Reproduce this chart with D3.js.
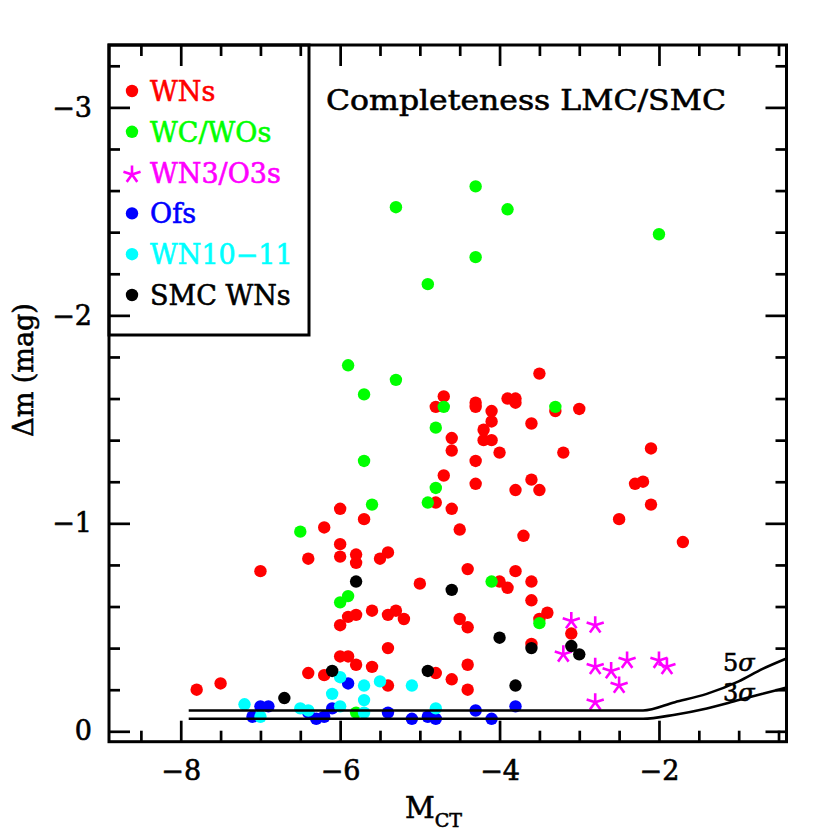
<!DOCTYPE html>
<html>
<head>
<meta charset="utf-8">
<script src="https://cdn.jsdelivr.net/npm/d3@7"></script>
<style>
  html, body { margin: 0; padding: 0; background: #fff; }
  svg { display: block; }
  text { font-family: "DejaVu Serif", "Liberation Serif", serif; }
</style>
</head>
<body>
<svg id="chart" width="830" height="830"></svg>
<script>
// ---------------- data ----------------
const wnX = [-3.50,-4.70,-4.80,-4.30,-4.30,-4.10,-3.90,-3.80,-3.80,-3.30,-3.00,-4.10,-3.60,-4.60,-4.20,-4.20,-4.10,-4.60,-4.00,-3.20,
             -4.30,-2.10,-4.70,-4.30,-3.60,-3.80,-3.50,-2.30,-2.20,-2.10,-4.80,-4.60,-6.00,-5.70,-6.20,-4.50,-3.70,-2.50,-1.70,-6.00,
             -6.40,-6.00,-5.80,-5.80,-5.50,-5.40,-7.00,-4.40,-3.80,-5.00,-4.00,-3.90,-3.60,-3.60,-3.40,-3.50,-5.60,-5.90,-5.80,-5.40,
             -5.30,-5.20,-6.00,-4.50,-4.40,-3.60,-3.10,-5.40,-6.00,-5.90,-5.80,-5.60,-6.40,-6.20,-4.80,-4.40,-4.60,-5.40,-4.40,-7.80,-7.50];
const wnY = [-1.72,-1.61,-1.56,-1.58,-1.56,-1.54,-1.60,-1.60,-1.58,-1.54,-1.55,-1.49,-1.48,-1.41,-1.45,-1.40,-1.40,-1.35,-1.34,-1.34,
             -1.30,-1.36,-1.23,-1.19,-1.21,-1.16,-1.16,-1.19,-1.20,-1.09,-1.10,-1.07,-1.07,-1.02,-0.98,-0.97,-0.94,-1.02,-0.91,-0.90,
             -0.83,-0.84,-0.85,-0.81,-0.83,-0.86,-0.77,-0.78,-0.77,-0.71,-0.72,-0.69,-0.72,-0.63,-0.57,-0.54,-0.58,-0.55,-0.56,-0.56,
             -0.58,-0.54,-0.51,-0.54,-0.50,-0.42,-0.47,-0.40,-0.36,-0.36,-0.32,-0.31,-0.28,-0.27,-0.28,-0.32,-0.25,-0.22,-0.20,-0.20,-0.23];

const wcX = [-4.30,-5.30,-3.90,-2.00,-4.30,-4.90,-5.90,-5.30,-5.70,-4.70,-3.30,-4.80,-5.70,-4.80,-5.60,-4.90,-6.50,-5.90,-6.00,-4.10,-3.50,-5.80];
const wcY = [-2.62,-2.52,-2.51,-2.39,-2.28,-2.15,-1.76,-1.69,-1.62,-1.56,-1.56,-1.46,-1.30,-1.17,-1.09,-1.10,-0.96,-0.65,-0.62,-0.72,-0.52,-0.09];

const wn3X = [-3.10,-2.80,-3.20,-2.80,-2.60,-2.40,-2.50,-2.80,-2.00,-1.90];
const wn3Y = [-0.53,-0.51,-0.37,-0.31,-0.29,-0.34,-0.22,-0.14,-0.34,-0.31];

const ofX = [-7.00,-6.90,-7.10,-6.40,-6.30,-6.20,-6.10,-5.90,-5.40,-5.10,-4.90,-4.80,-4.30,-4.10,-3.80];
const ofY = [-0.12,-0.12,-0.07,-0.09,-0.06,-0.07,-0.11,-0.23,-0.09,-0.06,-0.07,-0.06,-0.10,-0.06,-0.12];

const wn10X = [-7.20,-7.00,-6.50,-6.40,-6.10,-6.00,-6.00,-5.70,-5.70,-5.70,-5.50,-5.10,-4.80];
const wn10Y = [-0.13,-0.07,-0.11,-0.10,-0.18,-0.26,-0.12,-0.22,-0.15,-0.09,-0.24,-0.22,-0.11];

const smcX = [-6.70,-6.10,-5.80,-4.90,-4.60,-4.00,-3.80,-3.60,-3.10,-3.00];
const smcY = [-0.16,-0.29,-0.72,-0.29,-0.68,-0.45,-0.22,-0.40,-0.41,-0.37];

// completeness limits
const limX   = [-7.9, -2.2, -1.8, -1.4, -1.0, -0.7, -0.4];
const lim5sY = [-0.10, -0.10, -0.14, -0.18, -0.24, -0.30, -0.35];
const lim3sY = [-0.06, -0.06, -0.08, -0.11, -0.15, -0.18, -0.21];

const xMajor = [-8, -6, -4, -2];
const yMajor = [-3, -2, -1, 0];

const legendLabels = ["WNs", "WC/WOs", "WN3/O3s", "Ofs", "WN10\u221211", "SMC WNs"];
const legendColors = ["#ff0000", "#00ff00", "#ff00ff", "#0000ff", "#00ffff", "#000000"];
const legendShapes = ["dot", "dot", "star", "dot", "dot", "dot"];

// ---------------- layout ----------------
const L = 109, R = 786.5, T = 45, B = 741.7;
const svg = d3.select("#chart");
const x = d3.scaleLinear().domain([-8.9, -0.4]).range([L, R]);
const y = d3.scaleLinear().domain([0.05, -3.3]).range([B, T]);

const xMinor = d3.range(-8.5, -0.4, 0.5).filter(v => !xMajor.some(m => Math.abs(m - v) < 1e-6));
const yMinor = d3.range(-3.2, 0.01, 0.2).map(v => +v.toFixed(2)).filter(v => !yMajor.some(m => Math.abs(m - v) < 1e-6));

const fmt = d => (d < 0 ? "\u2212" : "") + Math.abs(d);
const TXT_W = 0.6; // slight stroke to mimic the heavier plotting font

function styleAxis(g) {
  g.select(".domain").remove();
  g.selectAll(".tick line").attr("stroke", "#000").attr("stroke-width", 2.7);
  g.selectAll(".tick text").attr("font-family", "DejaVu Serif").attr("font-size", 27)
    .attr("fill", "#000").attr("stroke", "#000").attr("stroke-width", TXT_W);
}

const MAJ = 21, MIN = 11;
// bottom
svg.append("g").attr("transform", `translate(0,${B})`)
  .call(d3.axisBottom(x).tickValues(xMajor).tickSize(-MAJ).tickPadding(19).tickFormat(fmt)).call(styleAxis);
svg.append("g").attr("transform", `translate(0,${B})`)
  .call(d3.axisBottom(x).tickValues(xMinor).tickSize(-MIN).tickFormat("")).call(styleAxis);
// top
svg.append("g").attr("transform", `translate(0,${T})`)
  .call(d3.axisTop(x).tickValues(xMajor).tickSize(-MAJ).tickFormat("")).call(styleAxis);
svg.append("g").attr("transform", `translate(0,${T})`)
  .call(d3.axisTop(x).tickValues(xMinor).tickSize(-MIN).tickFormat("")).call(styleAxis);
// left
svg.append("g").attr("transform", `translate(${L},0)`)
  .call(d3.axisLeft(y).tickValues(yMajor).tickSize(-MAJ).tickPadding(17).tickFormat(fmt)).call(styleAxis);
svg.append("g").attr("transform", `translate(${L},0)`)
  .call(d3.axisLeft(y).tickValues(yMinor).tickSize(-MIN).tickFormat("")).call(styleAxis);
// right
svg.append("g").attr("transform", `translate(${R},0)`)
  .call(d3.axisRight(y).tickValues(yMajor).tickSize(-MAJ).tickFormat("")).call(styleAxis);
svg.append("g").attr("transform", `translate(${R},0)`)
  .call(d3.axisRight(y).tickValues(yMinor).tickSize(-MIN).tickFormat("")).call(styleAxis);

// ---------------- markers ----------------
const RAD = 6.2;
function starPath(s) {
  let p = "";
  for (let k = 0; k < 5; k++) {
    const a = -Math.PI / 2 + k * 2 * Math.PI / 5;
    p += `M0,0L${(s * Math.cos(a)).toFixed(2)},${(s * Math.sin(a)).toFixed(2)}`;
  }
  return p;
}
function dots(xs, ys, color) {
  svg.append("g").selectAll("circle").data(xs.map((v, i) => [v, ys[i]])).join("circle")
    .attr("cx", d => x(d[0])).attr("cy", d => y(d[1])).attr("r", RAD).attr("fill", color);
}
function stars(xs, ys, color) {
  svg.append("g").selectAll("path").data(xs.map((v, i) => [v, ys[i]])).join("path")
    .attr("transform", d => `translate(${x(d[0])},${y(d[1])})`)
    .attr("d", starPath(9)).attr("stroke", color).attr("stroke-width", 2.6).attr("fill", "none");
}
dots(wnX, wnY, legendColors[0]);
dots(wcX, wcY, legendColors[1]);
stars(wn3X, wn3Y, legendColors[2]);
dots(ofX, ofY, legendColors[3]);
dots(wn10X, wn10Y, legendColors[4]);
dots(smcX, smcY, legendColors[5]);

// ---------------- limit curves ----------------
const line = d3.line().curve(d3.curveMonotoneX);
[lim5sY, lim3sY].forEach(ys => {
  svg.append("path")
    .attr("d", line(limX.map((v, i) => [x(v), y(ys[i])])))
    .attr("fill", "none").attr("stroke", "#000").attr("stroke-width", 2.6);
});
function sigmaLabel(xp, yp, n) {
  const t = svg.append("text").attr("x", xp).attr("y", yp).attr("font-size", 24)
    .attr("stroke", "#000").attr("stroke-width", TXT_W);
  t.append("tspan").text(n);
  t.append("tspan").attr("font-style", "italic").text("\u03C3");
}
sigmaLabel(723, 671, "5");
sigmaLabel(723, 701, "3");

// ---------------- frame ----------------
svg.append("rect").attr("x", L).attr("y", T).attr("width", R - L).attr("height", B - T)
  .attr("fill", "none").attr("stroke", "#000").attr("stroke-width", 3);

// ---------------- legend ----------------
svg.append("rect").attr("x", L).attr("y", T).attr("width", 200).attr("height", 290)
  .attr("fill", "none").attr("stroke", "#000").attr("stroke-width", 3);
legendLabels.forEach((lab, i) => {
  const cy = 91 + i * 40.8;
  if (legendShapes[i] === "star") {
    svg.append("path").attr("transform", `translate(132,${cy + 2})`).attr("d", starPath(9))
      .attr("stroke", legendColors[i]).attr("stroke-width", 2.6).attr("fill", "none");
  } else {
    svg.append("circle").attr("cx", 132).attr("cy", cy).attr("r", RAD).attr("fill", legendColors[i]);
  }
  svg.append("text").attr("x", 150).attr("y", cy + 10).attr("font-size", 27)
    .attr("fill", legendColors[i]).attr("stroke", legendColors[i]).attr("stroke-width", TXT_W).text(lab);
});

// ---------------- titles ----------------
svg.append("text").attr("x", 326).attr("y", 110).attr("font-size", 28)
  .attr("stroke", "#000").attr("stroke-width", TXT_W)
  .attr("textLength", 400).attr("lengthAdjust", "spacingAndGlyphs").text("Completeness LMC/SMC");

svg.append("text").attr("transform", "translate(33,370) rotate(-90)")
  .attr("text-anchor", "middle").attr("font-size", 27)
  .attr("stroke", "#000").attr("stroke-width", TXT_W).text("\u0394m (mag)");

const xl = svg.append("text").attr("x", 405).attr("y", 818).attr("font-size", 29)
  .attr("stroke", "#000").attr("stroke-width", TXT_W);
xl.append("tspan").text("M");
xl.append("tspan").attr("font-size", 19).attr("dy", 9).text("CT");
</script>
</body>
</html>
